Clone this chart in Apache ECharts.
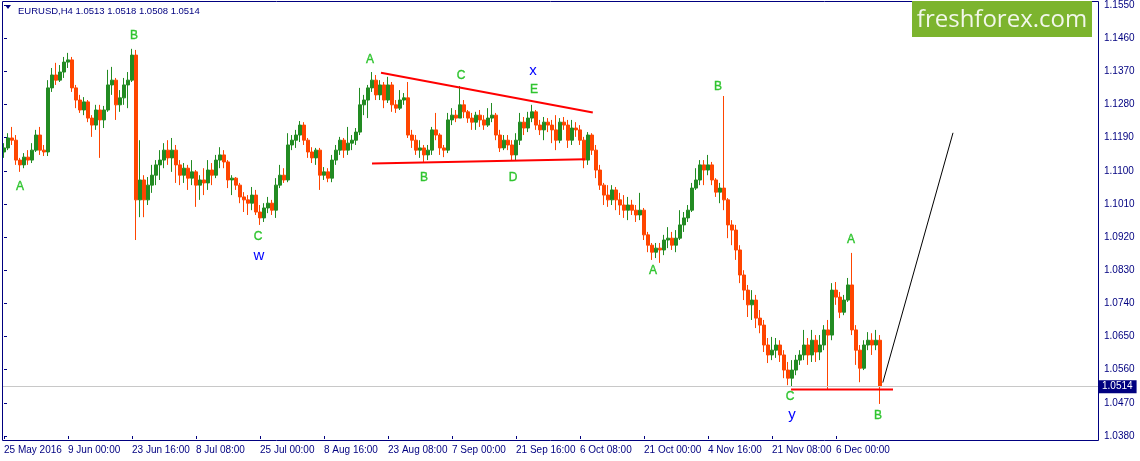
<!DOCTYPE html>
<html><head><meta charset="utf-8">
<script src="https://cdn.jsdelivr.net/npm/echarts@6/dist/echarts.min.js"></script>
<style>html,body{margin:0;padding:0;background:#fff}#c{width:1140px;height:461px}</style>
</head><body><div id="c"></div>
<script>
// ---- data (EURUSD H4, each candle here groups ~4 H4 bars) ----
const tickLabels = ['25 May 2016','9 Jun 00:00','23 Jun 16:00','8 Jul 08:00','25 Jul 00:00','8 Aug 16:00','23 Aug 08:00','7 Sep 00:00','21 Sep 16:00','6 Oct 08:00','21 Oct 00:00','4 Nov 16:00','21 Nov 08:00','6 Dec 00:00'];
const opens = [
1.1151,1.1162,1.1189,1.1183,1.1129,1.1116,1.1137,1.1129,1.1156,1.1197,
1.1156,1.1151,1.1325,1.1360,1.1346,1.1368,1.1395,1.1401,1.1325,1.1292,
1.1265,1.1287,1.1243,1.1224,1.1265,1.1238,1.1265,1.1333,1.1346,1.1279,
1.1298,1.1333,1.1346,1.1414,1.1021,1.1075,1.1021,1.1061,1.1088,1.1116,
1.1129,1.1156,1.1135,1.1156,1.1116,1.1088,1.1107,1.1080,1.1097,1.1061,
1.1075,1.1067,1.1102,1.1088,1.1129,1.1143,1.1124,1.1075,1.1080,1.1061,
1.1029,1.1021,1.1012,1.1034,1.0988,1.0972,1.0999,1.1012,1.0993,1.1061,
1.1088,1.1075,1.1170,1.1183,1.1197,1.1224,1.1183,1.1151,1.1135,1.1156,
1.1088,1.1097,1.1080,1.1129,1.1156,1.1183,1.1156,1.1175,1.1183,1.1205,
1.1279,1.1292,1.1325,1.1346,1.1306,1.1333,1.1292,1.1333,1.1279,1.1270,
1.1292,1.1298,1.1197,1.1183,1.1156,1.1162,1.1143,1.1156,1.1211,1.1197,
1.1162,1.1156,1.1238,1.1251,1.1243,1.1279,1.1260,1.1243,1.1232,1.1251,
1.1238,1.1224,1.1243,1.1251,1.1197,1.1162,1.1183,1.1170,1.1143,1.1183,
1.1232,1.1216,1.1243,1.1260,1.1224,1.1211,1.1232,1.1224,1.1211,1.1183,
1.1232,1.1224,1.1183,1.1216,1.1211,1.1183,1.1129,1.1197,1.1156,1.1102,
1.1061,1.1034,1.1021,1.1048,1.1021,1.1007,1.0993,1.1007,1.0993,1.0980,
1.0993,1.0926,1.0898,1.0879,1.0890,1.0885,1.0912,1.0917,1.0898,1.0917,
1.0953,1.0972,1.0993,1.1053,1.1075,1.1116,1.1102,1.1116,1.1075,1.1042,
1.1053,1.1021,1.0953,1.0939,1.0885,1.0817,1.0776,1.0736,1.0749,1.0700,
1.0681,1.0627,1.0600,1.0613,1.0627,1.0600,1.0559,1.0537,1.0559,1.0586,
1.0600,1.0627,1.0600,1.0640,1.0608,1.0627,1.0668,1.0654,1.0776,1.0757,
1.0716,1.0749,1.0790,1.0668,1.0613,1.0564,1.0627,1.0640,1.0627,1.0640];
const closes = [
1.1162,1.1189,1.1183,1.1129,1.1116,1.1137,1.1129,1.1156,1.1197,1.1156,
1.1151,1.1325,1.1360,1.1346,1.1368,1.1395,1.1401,1.1325,1.1292,1.1265,
1.1287,1.1243,1.1224,1.1265,1.1238,1.1265,1.1333,1.1346,1.1279,1.1298,
1.1333,1.1346,1.1414,1.1021,1.1075,1.1021,1.1061,1.1088,1.1116,1.1129,
1.1156,1.1135,1.1156,1.1116,1.1088,1.1107,1.1080,1.1097,1.1061,1.1075,
1.1067,1.1102,1.1088,1.1129,1.1143,1.1124,1.1075,1.1080,1.1061,1.1029,
1.1021,1.1012,1.1034,1.0988,1.0972,1.0999,1.1012,1.0993,1.1061,1.1088,
1.1075,1.1170,1.1183,1.1197,1.1224,1.1183,1.1151,1.1135,1.1156,1.1088,
1.1097,1.1080,1.1129,1.1156,1.1183,1.1156,1.1175,1.1183,1.1205,1.1279,
1.1292,1.1325,1.1346,1.1306,1.1333,1.1292,1.1333,1.1279,1.1270,1.1292,
1.1298,1.1197,1.1183,1.1156,1.1162,1.1143,1.1156,1.1211,1.1197,1.1162,
1.1156,1.1238,1.1251,1.1243,1.1279,1.1260,1.1243,1.1232,1.1251,1.1238,
1.1224,1.1243,1.1251,1.1197,1.1162,1.1183,1.1170,1.1143,1.1183,1.1232,
1.1216,1.1243,1.1260,1.1224,1.1211,1.1232,1.1224,1.1211,1.1183,1.1232,
1.1224,1.1183,1.1216,1.1211,1.1183,1.1129,1.1197,1.1156,1.1102,1.1061,
1.1034,1.1021,1.1048,1.1021,1.1007,1.0993,1.1007,1.0993,1.0980,1.0993,
1.0926,1.0898,1.0879,1.0890,1.0885,1.0912,1.0917,1.0898,1.0917,1.0953,
1.0972,1.0993,1.1053,1.1075,1.1116,1.1102,1.1116,1.1075,1.1042,1.1053,
1.1021,1.0953,1.0939,1.0885,1.0817,1.0776,1.0736,1.0749,1.0700,1.0681,
1.0627,1.0600,1.0613,1.0627,1.0600,1.0559,1.0537,1.0559,1.0586,1.0600,
1.0627,1.0600,1.0640,1.0608,1.0627,1.0668,1.0654,1.0776,1.0757,1.0716,
1.0749,1.0790,1.0668,1.0613,1.0564,1.0627,1.0640,1.0627,1.0640,1.0514];
const lows = [
1.1135,1.1156,1.1170,1.1116,1.1097,1.1107,1.1116,1.1121,1.1151,1.1143,
1.1140,1.1140,1.1314,1.1333,1.1341,1.1352,1.1379,1.1314,1.1270,1.1257,
1.1251,1.1232,1.1192,1.1211,1.1135,1.1216,1.1260,1.1306,1.1238,1.1260,
1.1279,1.1270,1.1341,1.0912,1.0974,1.0974,1.1007,1.1040,1.1061,1.1075,
1.1107,1.1116,1.1097,1.1067,1.1061,1.1067,1.1048,1.1061,1.1002,1.1021,
1.1034,1.1048,1.1061,1.1080,1.1107,1.1107,1.1053,1.1034,1.1048,1.1012,
1.0988,1.0980,1.0993,1.0980,1.0953,1.0961,1.0985,1.0980,1.0972,1.1053,
1.1067,1.1069,1.1156,1.1162,1.1178,1.1170,1.1135,1.1121,1.1116,1.1048,
1.1075,1.1069,1.1069,1.1116,1.1143,1.1135,1.1143,1.1156,1.1170,1.1197,
1.1251,1.1243,1.1314,1.1292,1.1292,1.1270,1.1284,1.1260,1.1257,1.1265,
1.1279,1.1189,1.1162,1.1143,1.1135,1.1124,1.1129,1.1143,1.1183,1.1143,
1.1137,1.1148,1.1224,1.1232,1.1243,1.1243,1.1230,1.1211,1.1211,1.1219,
1.1211,1.1219,1.1232,1.1183,1.1151,1.1156,1.1156,1.1129,1.1129,1.1170,
1.1197,1.1205,1.1232,1.1211,1.1197,1.1183,1.1205,1.1175,1.1156,1.1175,
1.1211,1.1162,1.1170,1.1192,1.1170,1.1107,1.1116,1.1143,1.1080,1.1048,
1.1007,1.1002,1.1007,1.0993,1.0980,1.0972,1.0966,1.0980,1.0961,1.0966,
1.0912,1.0879,1.0858,1.0863,1.0850,1.0871,1.0890,1.0885,1.0879,1.0912,
1.0934,1.0961,1.0988,1.1048,1.1061,1.1061,1.1088,1.1061,1.1029,1.1012,
1.0993,1.0917,1.0898,1.0858,1.0795,1.0749,1.0703,1.0695,1.0673,1.0659,
1.0608,1.0578,1.0586,1.0592,1.0581,1.0537,1.0518,1.0513,1.0545,1.0573,
1.0586,1.0573,1.0581,1.0581,1.0586,1.0613,1.0505,1.0640,1.0736,1.0700,
1.0708,1.0744,1.0654,1.0573,1.0526,1.0559,1.0613,1.0600,1.0613,1.0467];
const highs = [
1.1175,1.1202,1.1219,1.1197,1.1135,1.1148,1.1156,1.1175,1.1211,1.1219,
1.1170,1.1346,1.1379,1.1393,1.1387,1.1409,1.1420,1.1409,1.1333,1.1306,
1.1300,1.1292,1.1251,1.1279,1.1279,1.1276,1.1374,1.1382,1.1352,1.1319,
1.1352,1.1368,1.1431,1.1428,1.1183,1.1088,1.1083,1.1116,1.1129,1.1156,
1.1175,1.1183,1.1189,1.1170,1.1129,1.1121,1.1116,1.1129,1.1102,1.1088,
1.1107,1.1129,1.1121,1.1143,1.1164,1.1156,1.1129,1.1088,1.1083,1.1067,
1.1042,1.1034,1.1056,1.1048,1.1007,1.1012,1.1029,1.1021,1.1080,1.1116,
1.1107,1.1202,1.1197,1.1211,1.1235,1.1232,1.1189,1.1164,1.1162,1.1162,
1.1110,1.1107,1.1143,1.1170,1.1192,1.1189,1.1219,1.1197,1.1216,1.1325,
1.1306,1.1333,1.1368,1.1360,1.1346,1.1341,1.1355,1.1341,1.1292,1.1319,
1.1311,1.1341,1.1211,1.1197,1.1183,1.1170,1.1170,1.1219,1.1257,1.1202,
1.1170,1.1257,1.1270,1.1265,1.1330,1.1292,1.1265,1.1257,1.1260,1.1265,
1.1251,1.1270,1.1284,1.1257,1.1211,1.1197,1.1197,1.1183,1.1202,1.1257,
1.1246,1.1260,1.1279,1.1265,1.1238,1.1246,1.1243,1.1238,1.1251,1.1243,
1.1246,1.1238,1.1238,1.1232,1.1224,1.1192,1.1205,1.1202,1.1170,1.1116,
1.1067,1.1061,1.1061,1.1056,1.1040,1.1034,1.1029,1.1021,1.1007,1.1040,
1.0999,1.0934,1.0904,1.0904,1.0904,1.0926,1.0947,1.0934,1.0939,1.0993,
1.0988,1.1007,1.1067,1.1107,1.1129,1.1129,1.1143,1.1124,1.1080,1.1067,
1.1303,1.1026,1.0966,1.0953,1.0898,1.0830,1.0790,1.0776,1.0763,1.0722,
1.0695,1.0646,1.0649,1.0646,1.0640,1.0613,1.0581,1.0586,1.0600,1.0613,
1.0668,1.0646,1.0668,1.0654,1.0654,1.0681,1.0695,1.0795,1.0798,1.0771,
1.0763,1.0809,1.0877,1.0681,1.0627,1.0640,1.0662,1.0659,1.0668,1.0654];
const lastPrice = 1.0514;
const titleText = 'EURUSD,H4 1.0513 1.0518 1.0508 1.0514';
const priceMin = 1.0380, priceMax = 1.1550, priceStep = 0.0090;
// wave labels: [text, bar slot, price, degree]
const waveLabels = [
  ['A',4,1.1059,'minor'],['B',32.5,1.1468,'minor'],['C',63.5,1.0924,'minor'],['w',63.75,1.0872,'major'],
  ['A',91.5,1.1403,'minor'],['B',105,1.1083,'minor'],['C',114.25,1.1360,'minor'],['D',127.25,1.1083,'minor'],
  ['x',132.25,1.1374,'major'],['E',132.5,1.1322,'minor'],['A',162.25,1.0830,'minor'],['B',178.5,1.1330,'minor'],
  ['C',196.5,1.0488,'minor'],['y',197,1.0440,'major'],['A',211.75,1.0915,'minor'],['B',218.5,1.0437,'minor']];
// trend lines: [slot1, price1, slot2, price2, kind]
const trendLines = [
  [94.25,1.1366,147.2,1.1258,'red'],
  [92,1.1120,145.25,1.1131,'red'],
  [196.75,1.0506,222.25,1.0506,'red'],
  [219.7,1.0525,237.25,1.1203,'black']];

// ---- chart ----
const NAVY = '#000080';
const FONT = 'Liberation Sans';
const N_SLOTS = 274;
const pip = p => (p - priceMin) * 10000;
const cats = Array.from({length: N_SLOTS}, (_, i) => String(i));
const candleData = opens.map((o, i) => [pip(o), pip(closes[i]), pip(lows[i]), pip(highs[i])]);
const showTick = i => i % 16 === 0 && i / 16 < tickLabels.length;
const degreeStyle = {
  minor: {fill: '#2fc42f', font: '12px "Liberation Sans"', lw: 0.35},
  major: {fill: '#0000ff', font: '15px "Liberation Sans"', lw: 0}
};

const series = [{
  type: 'candlestick', xAxisIndex: 0, yAxisIndex: 0, data: candleData, barWidth: 3,
  itemStyle: {color: '#228b22', color0: '#ff4500', borderColor: '#228b22', borderColor0: '#ff4500', borderWidth: 1},
  markLine: {
    silent: true, symbol: ['none', 'none'], animation: false,
    lineStyle: {color: '#c8c8c8', width: 1, type: 'solid'},
    label: {position: 'end', distance: 1, formatter: () => lastPrice.toFixed(4), backgroundColor: NAVY, color: '#fff',
      fontFamily: FONT, fontSize: 10, padding: [2, 4, 1, 3]},
    data: [{yAxis: pip(lastPrice)}]
  }
}];
trendLines.forEach(t => series.push({
  type: 'line', xAxisIndex: 1, yAxisIndex: 0, symbol: 'none', silent: true, z: 5,
  lineStyle: {color: t[4] === 'red' ? '#ff0000' : '#000000', width: t[4] === 'red' ? 2 : 1},
  data: [[t[0], pip(t[1])], [t[2], pip(t[3])]]
}));
series.push({
  type: 'custom', xAxisIndex: 1, yAxisIndex: 0, silent: true, z: 6, clip: false,
  data: waveLabels.map((w, i) => [w[1], pip(w[2]), i]),
  renderItem: (params, api) => {
    const w = waveLabels[api.value(2)];
    const pt = api.coord([api.value(0), api.value(1)]);
    const st = degreeStyle[w[3]];
    const style = {text: w[0], fill: st.fill, font: st.font, align: 'center', verticalAlign: 'middle'};
    if (st.lw > 0) { style.stroke = st.fill; style.lineWidth = st.lw; }
    return {type: 'text', x: Math.round(pt[0]), y: Math.round(pt[1]) + 0.5, style: style};
  }
});

const chart = echarts.init(document.getElementById('c'), null, {renderer: 'canvas'});
chart.setOption({
  animation: false,
  backgroundColor: '#ffffff',
  grid: {left: 2, right: 42, top: 5, bottom: 25, containLabel: false},
  xAxis: [{
    type: 'category', data: cats, boundaryGap: true, offset: 4,
    axisLine: {show: false},
    axisTick: {show: true, alignWithLabel: true, interval: showTick, length: 3, lineStyle: {color: NAVY}},
    axisLabel: {interval: showTick, formatter: (v, i) => tickLabels[Math.round(+v / 16)] || '', align: 'left',
      color: NAVY, fontFamily: FONT, fontSize: 10, margin: 5, showMinLabel: true, showMaxLabel: true, hideOverlap: false},
    splitLine: {show: false}
  }, {
    type: 'value', min: -0.5, max: N_SLOTS - 0.5, show: false
  }],
  yAxis: [{
    type: 'value', position: 'right', min: 0, max: pip(priceMax), interval: priceStep * 10000,
    axisLine: {show: false},
    axisTick: {show: true, length: 3, lineStyle: {color: NAVY}},
    axisLabel: {formatter: v => ((priceMin * 10000 + v) / 10000).toFixed(4), color: NAVY, fontFamily: FONT, fontSize: 10, margin: 6},
    splitLine: {show: false}
  }],
  graphic: [
    {type: 'rect', z: 100, silent: true, shape: {x: 2.5, y: 1.5, width: 1096, height: 439}, style: {fill: 'none', stroke: NAVY, lineWidth: 1}},
    {type: 'polygon', z: 100, silent: true, shape: {points: [[5, 5], [11, 5], [8, 9]]}, style: {fill: NAVY}},
    {type: 'text', z: 100, silent: true, x: 18, y: 11, style: {text: titleText, fill: NAVY, font: '9.5px "' + FONT + '"', verticalAlign: 'middle'}},
    {type: 'rect', z: 101, silent: true, shape: {x: 912, y: 1, width: 180, height: 36}, style: {fill: '#7cb42e'}},
    {type: 'text', z: 102, silent: true, x: 1002, y: 20, style: {text: 'freshforex.com', fill: '#f2f7ea', font: '24px "Open Sans"', align: 'center', verticalAlign: 'middle'}}
  ],
  series: series
});
</script></body></html>
